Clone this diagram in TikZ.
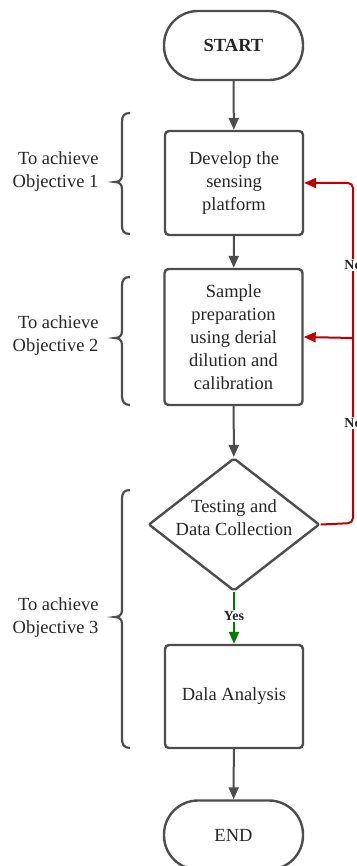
\documentclass[tikz,border=0pt]{standalone}
\usepackage{fontspec}
\setmainfont{Liberation Serif}
\usetikzlibrary{shapes.geometric,arrows.meta}
\definecolor{lc}{HTML}{4D4D4D}
\definecolor{redc}{HTML}{C00000}
\definecolor{greenc}{HTML}{007A00}
\begin{document}
\begin{tikzpicture}[x=1pt,y=-1pt,
  every node/.style={font=\fontsize{18.5}{23}\selectfont, text=black!85},
  box/.style={draw=lc, line width=2.4pt, rounded corners=4pt, minimum width=138pt, align=center, inner sep=0pt},
  term/.style={draw=lc, line width=2.4pt, rounded corners=34pt, minimum width=139pt, minimum height=69pt, inner sep=0pt},
  dec/.style={draw=lc, line width=2.4pt, diamond, aspect=1.286, minimum width=171pt, minimum height=133pt, inner sep=0pt, align=center, rounded corners=2pt},
  conn/.style={draw=lc, line width=2pt, -{Triangle[length=12pt,width=10pt]}},
  lbl/.style={font=\fontsize{14}{16}\selectfont\bfseries, fill=white, inner sep=1pt},
  obj/.style={align=right, anchor=east},
  brc/.style={draw=lc, line width=2.2pt}
]
\useasboundingbox (0,0) rectangle (356,866);
\node[term, font=\fontsize{18.5}{23}\selectfont\bfseries] (start) at (233.5,45.5) {START};
\node[box, minimum height=104pt] (dev) at (234,183) {Develop the\\sensing\\platform};
\node[box, minimum height=136pt] (samp) at (233.5,337) {Sample\\preparation\\using derial\\dilution and\\calibration};
\node[dec] (test) at (234,524.5) {};
\node[align=center] (testtxt) at (234,518) {Testing and\\Data Collection};
\node[box, minimum height=103pt] (ana) at (234,696.5) {Dala Analysis};
\node[term] (end) at (233.5,835) {END};

\draw[conn] (start) -- (dev);
\draw[conn] (dev) -- (samp);
\draw[conn] (samp) -- (test);
\draw[draw=greenc, line width=2pt, -{Triangle[length=12pt,width=10pt]}] (test.south) -- (ana.north);
\node[lbl] (yes) at (234,616) {Yes};
\draw[conn] (ana) -- (end);

\coordinate (rc) at (353,523);
\coordinate (bc) at (353,338);
\draw[draw=redc, line width=2pt, rounded corners=5pt, -{Triangle[length=12pt,width=10pt]}] (test.east) -- (rc) |- (dev.east);
\draw[draw=redc, line width=2pt, -{Triangle[length=12pt,width=10pt]}] (bc) -- (samp.east);
\node[lbl] (no1) at (353,265) {No};
\node[lbl] (no2) at (353,423) {No};

% braces
\draw[brc] (130,113) .. controls (124,113) and (122,116) .. (122,122) -- (122,175) .. controls (122,180) and (119,182) .. (115,182) .. controls (119,182) and (122,184) .. (122,189) -- (122,226) .. controls (122,231) and (124,234) .. (130,234);
\draw[brc] (130,277) .. controls (124,277) and (122,280) .. (122,286) -- (122,331) .. controls (122,336) and (119,338) .. (115,338) .. controls (119,338) and (122,340) .. (122,345) -- (122,396) .. controls (122,401) and (124,405) .. (130,405);
\draw[brc] (130,490) .. controls (124,490) and (122,493) .. (122,499) -- (122,610) .. controls (122,615) and (119,617) .. (115,617) .. controls (119,617) and (122,619) .. (122,624) -- (122,739) .. controls (122,744) and (124,748) .. (130,748);

\node[obj] (o1) at (102,172) {To achieve\\Objective 1};
\node[obj] (o2) at (102,336) {To achieve\\Objective 2};
\node[obj] (o3) at (102,618) {To achieve\\Objective 3};
\end{tikzpicture}
\end{document}
